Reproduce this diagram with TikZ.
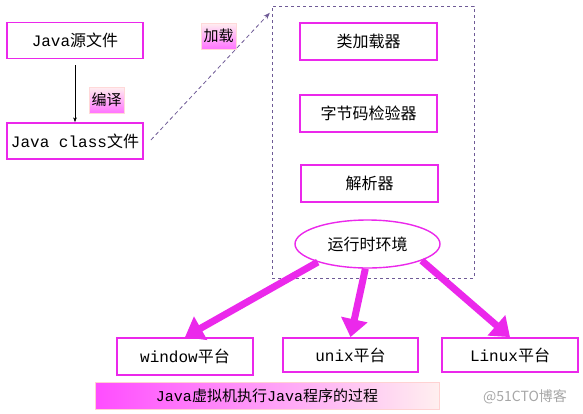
\documentclass[tikz,border=0pt]{standalone}
\usepackage{fontspec}
\newfontfamily\cjk{Noto Sans CJK SC}
\newfontfamily\mono{Liberation Mono}
\usetikzlibrary{arrows.meta,shapes.geometric}
\definecolor{pinkline}{RGB}{235,40,235}
\definecolor{dashline}{RGB}{110,90,150}
\newcommand{\zh}[1]{{\cjk #1}}
\newcommand{\la}[1]{{\mono #1}}
\begin{document}
\begin{tikzpicture}[
        x=1pt, y=-1pt,
        >=Stealth,
        every node/.style={font=\fontsize{16pt}{18pt}\selectfont},
        box/.style={draw=pinkline, line width=1.8pt, fill=white, minimum width=136pt, minimum height=36pt, inner sep=0pt},
        tag/.style={draw=pink!60, top color=pink!25, bottom color=magenta!55, minimum width=35pt, minimum height=26pt, inner sep=0pt, font=\fontsize{15pt}{17pt}\selectfont},
        flow/.style={draw=pinkline, line width=7pt, -{Triangle[length=18pt,width=26pt]}}
    ]
        \useasboundingbox (0,0) rectangle (583,413);

        % left column
        \node[box] (src) at (75,40.5) {\la{Java}\zh{源文件}};
        \node[box] (cls) at (75,141) {\la{Java class}\zh{文件}};
        \node[tag] (compile) at (106.5,100) {\zh{编译}};
        \node[tag] (load) at (218.5,36) {\zh{加载}};

        % virtual machine
        \node[draw=dashline, dashed, minimum width=202pt, minimum height=272pt] (jvm) at (373,142) {};
        \node[box, minimum width=137pt, minimum height=37pt] (loader) at (368.5,41.5) {\zh{类加载器}};
        \node[box, minimum width=137pt, minimum height=37pt] (verifier) at (368.5,113.5) {\zh{字节码检验器}};
        \node[box, minimum width=137pt, minimum height=37pt] (parser) at (369.5,183.5) {\zh{解析器}};
        \node[ellipse, draw=pinkline, line width=1.4pt, fill=white, minimum width=145pt, minimum height=48pt, inner sep=0pt] (runtime) at (367.5,244) {\zh{运行时环境}};

        % platforms
        \node[box, minimum height=37pt] (win) at (185,356.5) {\la{window}\zh{平台}};
        \node[box, minimum width=135pt, minimum height=34pt] (unix) at (350.5,355) {\la{unix}\zh{平台}};
        \node[box, minimum height=34pt] (linux) at (510,355) {\la{Linux}\zh{平台}};

        \node[draw=pink!70, left color=magenta!70, right color=pink!25, minimum width=344pt, minimum height=27pt, inner sep=0pt, font=\fontsize{15pt}{17pt}\selectfont] (title) at (267,395.5) {\la{Java}\zh{虚拟机执行}\la{Java}\zh{程序的过程}};
        \node[text=gray!70, font=\fontsize{14pt}{16pt}\selectfont] (mark) at (525,397) {\zh{@51CTO博客}};

        \draw[->, thin] (src.south) ++(0,6) coordinate (a) (a) -- (cls.north);
        \draw[->, dashline, line width=0.8pt, dash pattern=on 4pt off 3pt] (cls.east) ++(7,-1) coordinate (b) (b) -- ([shift={(-2,7)}]jvm.north west);
        \draw[flow] (runtime.200) -- (win.north);
        \draw[flow] (runtime.-95) -- (unix.north);
        \draw[flow] (runtime.-17) -- (linux.north);
    \end{tikzpicture}
\end{document}
